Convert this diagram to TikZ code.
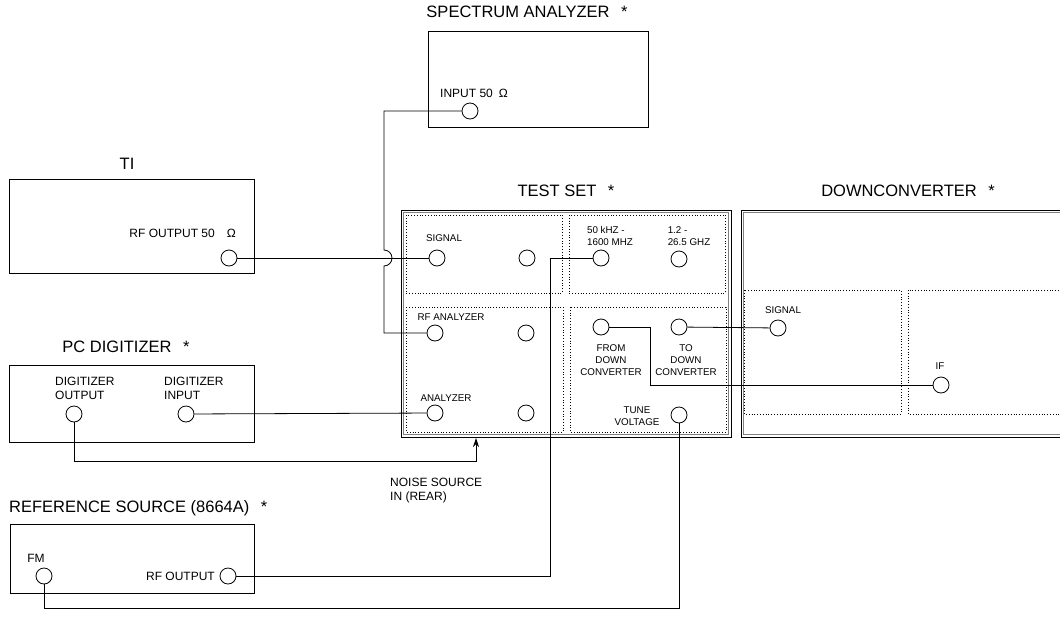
\documentclass[tikz,border=0pt]{standalone}
\usepackage{fontspec}
\setmainfont{Liberation Sans}
\usetikzlibrary{arrows.meta}

\begin{document}
\begin{tikzpicture}[x=1pt,y=-1pt,
    unit/.style={draw,line width=0.8pt},
    panel/.style={draw,dotted,line width=0.8pt},
    jack/.style={draw,circle,line width=0.8pt,minimum size=16pt,inner sep=0pt},
    wire/.style={line width=0.8pt},
    title/.style={font=\fontsize{16.5}{20}\selectfont},
    lbl/.style={font=\fontsize{12}{14}\selectfont,inner sep=0pt},
    slbl/.style={font=\fontsize{9.8}{12}\selectfont,inner sep=0pt}]
  \clip (0,0) rectangle (1060,640);
  \fill[white] (0,0) rectangle (1060,640);

  % spectrum analyzer
  \draw[unit] (428,31) rectangle (648,127);
  \node[title] (satitle) at (527,12) {SPECTRUM ANALYZER\hspace{0.7em}*};
  \node[lbl,anchor=west] (salbl) at (440,93) {INPUT 50\enspace Ω};
  \node[jack] (sain) at (470,111) {};

  % TI
  \draw[unit] (9,179) rectangle (254,273);
  \node[title] (tititle) at (127,164) {TI};
  \node[lbl,anchor=east] (tilbl) at (236,233) {RF OUTPUT 50\quad Ω};
  \node[jack] (tiout) at (229,258) {};

  % test set
  \draw[unit] (401,210) rectangle (731,437);
  \draw[gray,line width=0.8pt] (403.5,212.5) rectangle (728.5,434.5);
  \node[title] (tstitle) at (566,191) {TEST SET\hspace{0.7em}*};
  \draw[panel] (406,215) rectangle (562,293);
  \draw[panel] (569,215) rectangle (725,293);
  \draw[panel] (406,307) rectangle (563,432);
  \draw[panel] (570,307) rectangle (726,432);
  \node[slbl] (sglbl) at (444,238) {SIGNAL};
  \node[jack] (tssig) at (437,258) {};
  \node[jack] (tssig2) at (527,258) {};
  \node[slbl,align=left] (lolbl) at (610,236) {50 kHZ -\\1600 MHZ};
  \node[jack] (tslo) at (601,258) {};
  \node[slbl,align=left] (hilbl) at (689,236) {1.2 -\\26.5 GHZ};
  \node[jack] (tshi) at (679,259) {};
  \node[slbl] (rflbl) at (451,317) {RF ANALYZER};
  \node[jack] (tsrf) at (435,333) {};
  \node[jack] (tsrf2) at (526,333) {};
  \node[slbl] (anlbl) at (446,398) {ANALYZER};
  \node[jack] (tsan) at (435,413) {};
  \node[jack] (tsan2) at (526,413) {};
  \node[slbl,align=center] (fromlbl) at (611,360) {FROM\\DOWN\\CONVERTER};
  \node[jack] (tsfrom) at (601,327) {};
  \node[slbl,align=center] (tolbl) at (686,360) {TO\\DOWN\\CONVERTER};
  \node[jack] (tsto) at (679,327) {};
  \node[slbl,align=center] (tunelbl) at (637,416) {TUNE\\VOLTAGE};
  \node[jack] (tstune) at (679,415) {};

  % downconverter
  \draw[unit] (741,210) rectangle (1075,437);
  \draw[gray,line width=0.8pt] (743.5,212.5) rectangle (1075,434.5);
  \node[title] (dctitle) at (908,191) {DOWNCONVERTER\hspace{0.7em}*};
  \draw[panel] (744,290) rectangle (901,414);
  \draw[panel] (908,290) rectangle (1075,414);
  \node[slbl] (dcsiglbl) at (783,310) {SIGNAL};
  \node[jack] (dcsig) at (778,328) {};
  \node[slbl] (iflbl) at (940,366) {IF};
  \node[jack] (dcif) at (941,385) {};

  % PC digitizer
  \draw[unit] (9,365) rectangle (254,442);
  \node[title] (pctitle) at (126,347) {PC DIGITIZER\hspace{0.7em}*};
  \node[lbl,align=left,anchor=north west] (outlbl) at (55,377) {DIGITIZER\\OUTPUT};
  \node[lbl,align=left,anchor=north west] (inlbl) at (164,377) {DIGITIZER\\INPUT};
  \node[jack] (digout) at (74,414) {};
  \node[jack] (digin) at (186,414) {};

  % reference source
  \draw[unit] (10,524) rectangle (254,593);
  \node[title,anchor=west,inner sep=0pt] (rstitle) at (9,508) {REFERENCE SOURCE (8664A)\hspace{0.7em}*};
  \node[lbl] (fmlbl) at (36,558) {FM};
  \node[jack] (rsfm) at (44,576) {};
  \node[lbl,anchor=east] (rsoutlbl) at (215,576) {RF OUTPUT};
  \node[jack] (rsout) at (228,576) {};

  \node[lbl,align=left,anchor=north west] (noiselbl) at (390,478) {NOISE SOURCE\\IN (REAR)};
  \coordinate (noisein) at (476,438);

  % connections
  \draw[wire] (tiout) -- (tssig);
  \draw[wire] (sain) -- (384,111) -- (384,250)
      arc[start angle=-90,end angle=90,radius=8] -- (384,333) -- (tsrf);
  \draw[wire] (digin) -- (tsan);
  \draw[wire,-{Stealth[length=9pt,width=6pt]}] (digout) |- (476,461) -- (noisein);
  \draw[wire] (tslo) -- (550,258) |- (rsout);
  \draw[wire] (rsfm) |- (679,608) -- (tstune);
  \draw[wire] (tsfrom) -- (650,327) |- (dcif);
  \draw[wire] (tsto) -- (dcsig);
\end{tikzpicture}
\end{document}
